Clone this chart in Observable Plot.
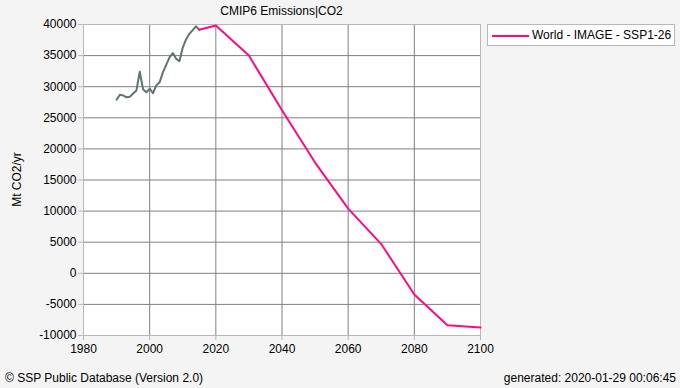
<!DOCTYPE html>
<html>
<head>
<meta charset="utf-8">
<script src="https://cdn.jsdelivr.net/npm/d3@7"></script>
<script src="https://cdn.jsdelivr.net/npm/@observablehq/plot@0.6"></script>
<style>
  html, body { margin: 0; padding: 0; background: #f4f4f4; }
  body { font-family: "Liberation Sans", Arial, sans-serif; font-size: 12px; color: #000; }
  #wrap { position: relative; width: 680px; height: 388px; overflow: hidden; }
  #chart { position: absolute; left: 0; top: 0; }
  #title { position: absolute; left: 83px; width: 397px; top: 4px; text-align: center; font-size: 12px; }
  #legend { position: absolute; left: 487px; top: 24px; width: 188px; height: 22px; box-sizing: border-box;
            border: 1px solid #b8b8b8; background: #fff; font-size: 12px; }
  #legend .sw { position: absolute; left: 4px; top: 10px; width: 37px; height: 2px; background: #ff0a80; }
  #legend .lb { position: absolute; left: 44px; top: 3px; white-space: nowrap; }
  #foot-l { position: absolute; left: 5px; top: 371px; font-size: 12px; }
  #foot-r { position: absolute; right: 4px; top: 371px; font-size: 12px; }
</style>
</head>
<body>
<div id="wrap">
  <div id="chart"></div>
  <div id="title"></div>
  <div id="legend"><div class="sw"></div><div class="lb"></div></div>
  <div id="foot-l"></div>
  <div id="foot-r"></div>
</div>
<script>
const titleText = "CMIP6 Emissions|CO2";
const yLabel = "Mt CO2/yr";
const legendLabel = "World - IMAGE - SSP1-26";
const footLeft = "© SSP Public Database (Version 2.0)";
const footRight = "generated: 2020-01-29 00:06:45";

const xTicks = [1980, 2000, 2020, 2040, 2060, 2080, 2100];
const yTicks = [-10000, -5000, 0, 5000, 10000, 15000, 20000, 25000, 30000, 35000, 40000];

// Historical emissions (grey)
const histYears = [1990,1991,1992,1993,1994,1995,1996,1997,1998,1999,2000,2001,2002,2003,2004,2005,2006,2007,2008,2009,2010,2011,2012,2013,2014,2015];
const histValues = [27900,28700,28600,28300,28400,28900,29400,32400,29600,29100,29700,28950,30200,30700,32300,33500,34700,35400,34500,34100,36300,37600,38500,39100,39700,39150];

// Scenario: World - IMAGE - SSP1-26 (pink)
const scenYears = [2015,2020,2030,2040,2050,2060,2070,2080,2090,2100];
const scenValues = [39150,39850,35000,26200,17800,10400,4700,-3400,-8350,-8700];

const hist = histYears.map((y, i) => ({year: y, value: histValues[i]}));
const scen = scenYears.map((y, i) => ({year: y, value: scenValues[i]}));

const innerX = xTicks.slice(1, -1);
const innerY = yTicks.slice(1, -1);

const chart = Plot.plot({
  width: 680,
  height: 388,
  marginLeft: 83,
  marginRight: 200,
  marginTop: 24,
  marginBottom: 53,
  style: { background: "transparent", fontFamily: "'Liberation Sans', Arial, sans-serif", fontSize: "12px", color: "#000" },
  x: { domain: [1980, 2100] },
  y: { domain: [-10000, 40000] },
  marks: [
    Plot.frame({ fill: "white", stroke: "none" }),
    Plot.gridX(innerX, { stroke: "#808080", strokeOpacity: 1, strokeWidth: 1 }),
    Plot.gridY(innerY, { stroke: "#808080", strokeOpacity: 1, strokeWidth: 1 }),
    Plot.frame({ stroke: "#b8b8b8", strokeWidth: 1 }),
    Plot.axisX({ ticks: xTicks, tickFormat: d => String(d), tickSize: 5, tickPadding: 4, stroke: "#b8b8b8", fill: "#000", label: null, fontSize: 12 }),
    Plot.axisY({ ticks: yTicks, tickFormat: d => String(d), tickSize: 5, tickPadding: 2, stroke: "#b8b8b8", fill: "#000", label: null, fontSize: 12 }),
    Plot.line(hist, { x: "year", y: "value", stroke: "#5f7373", strokeWidth: 2 }),
    Plot.line(scen, { x: "year", y: "value", stroke: "#ff0a80", strokeWidth: 2 })
  ]
});
document.getElementById("chart").appendChild(chart);

// y-axis label as rotated SVG text
const svg = d3.select(chart);
svg.append("text")
  .attr("transform", "translate(21,179.5) rotate(-90)")
  .attr("text-anchor", "middle")
  .attr("font-size", 12)
  .attr("fill", "#000")
  .text(yLabel);

document.getElementById("title").textContent = titleText;
document.querySelector("#legend .lb").textContent = legendLabel;
document.getElementById("foot-l").textContent = footLeft;
document.getElementById("foot-r").textContent = footRight;
</script>
</body>
</html>
